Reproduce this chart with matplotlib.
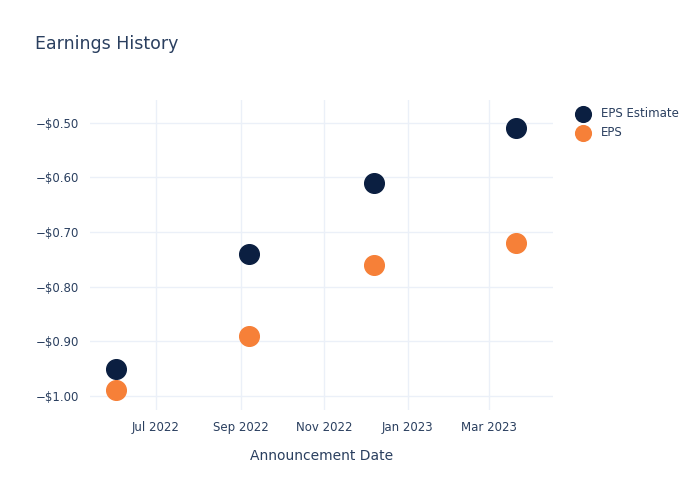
import numpy as np
import pandas as pd
import matplotlib.pyplot as plt
import matplotlib.dates as mdates
from matplotlib.ticker import FuncFormatter

dates = pd.to_datetime(['2022-06-02', '2022-09-07', '2022-12-07', '2023-03-21'])
eps_estimate = [-0.95, -0.74, -0.61, -0.51]
eps_actual = [-0.99, -0.89, -0.76, -0.72]

text_color = '#2a3f5f'
grid_color = '#EBF0F8'

fig = plt.figure(figsize=(7, 5), dpi=100)
ax = fig.add_axes([90 / 700, 90 / 500, 463 / 700, 310 / 500])

ax.scatter(dates, eps_estimate, s=200, color='#0b1f41', label='EPS Estimate', zorder=3)
ax.scatter(dates, eps_actual, s=200, color='#f68038', label='EPS', zorder=3)

ax.set_xlim(pd.Timestamp('2022-05-14'), pd.Timestamp('2023-04-17'))
ax.set_ylim(-1.026, -0.458)
ax.set_yticks([-1.0, -0.9, -0.8, -0.7, -0.6, -0.5])
ax.yaxis.set_major_formatter(FuncFormatter(lambda v, p: '\u2212$%.2f' % abs(v)))
ax.xaxis.set_major_locator(mdates.MonthLocator(bymonth=[1, 3, 5, 7, 9, 11]))
ax.xaxis.set_major_formatter(mdates.DateFormatter('%b %Y'))

for s in ax.spines.values():
    s.set_visible(False)
ax.grid(True, color=grid_color, linewidth=1)
ax.set_axisbelow(True)
ax.tick_params(length=0, colors=text_color, labelsize=8.5, pad=8)

ax.set_xlabel('Announcement Date', color=text_color, fontsize=10, labelpad=11)
fig.text(35 / 700, 1 - 44 / 500, 'Earnings History', color=text_color, fontsize=12.5, va='center')

ax.legend(loc='upper left', bbox_to_anchor=(1.025, 1.0), frameon=False,
          labelcolor=text_color, fontsize=8.5, markerscale=0.8, handletextpad=0.5,
          borderaxespad=0.2)

fig.savefig('out.png')
